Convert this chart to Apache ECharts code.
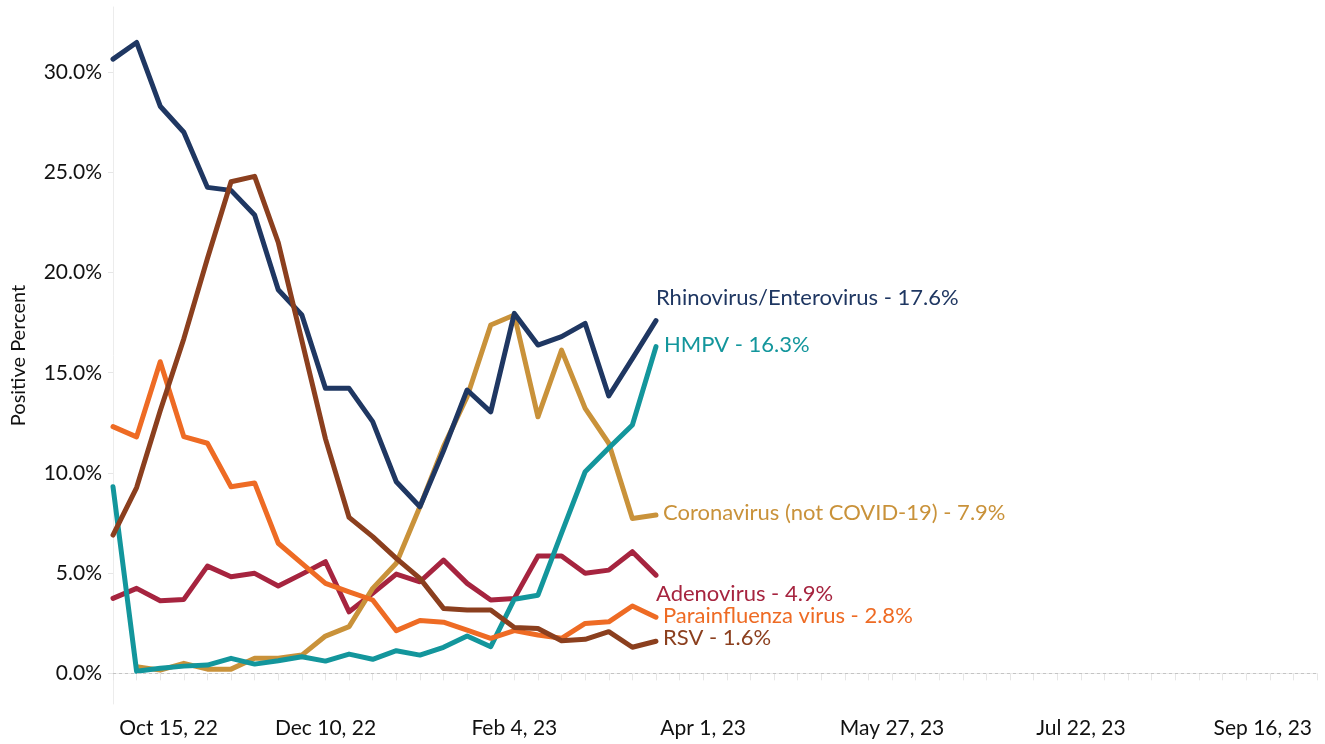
<!DOCTYPE html>
<html lang="en">
<head>
    <meta charset="UTF-8">
    <title>Positive Percent</title>
    <script src="https://cdn.jsdelivr.net/npm/echarts@6/dist/echarts.min.js"></script>
    <style>
        html, body { margin: 0; padding: 0; background: #fff; }
        #main { width: 1325px; height: 744px; }
    </style>
</head>
<body>
<div id="main"></div>
<script>
    // axis runs from the first week to the end of Sep 2023
    var axisStart = '2022-10-08';
    var axisEnd = '2023-09-30';

    // week ending dates
    var weeks = ['2022-10-08', '2022-10-15', '2022-10-22', '2022-10-29', '2022-11-05', '2022-11-12',
        '2022-11-19', '2022-11-26', '2022-12-03', '2022-12-10', '2022-12-17', '2022-12-24',
        '2022-12-31', '2023-01-07', '2023-01-14', '2023-01-21', '2023-01-28', '2023-02-04',
        '2023-02-11', '2023-02-18', '2023-02-25', '2023-03-04', '2023-03-11', '2023-03-18'];

    var tickDates = ['2022-10-15', '2022-12-10', '2023-02-04', '2023-04-01', '2023-05-27', '2023-07-22', '2023-09-16'];
    var tickText = ['Oct 15, 22', 'Dec 10, 22', 'Feb 4, 23', 'Apr 1, 23', 'May 27, 23', 'Jul 22, 23', 'Sep 16, 23'];
    var yTicks = [0, 5, 10, 15, 20, 25, 30];

    // positive percent per week
    var adeno = [3.74, 4.24, 3.62, 3.69, 5.35, 4.82, 4.99, 4.36, 4.95, 5.57, 3.07, 3.99,
        4.95, 4.57, 5.65, 4.49, 3.66, 3.74, 5.85, 5.85, 4.99, 5.15, 6.07, 4.9];
    var corona = [null, 0.33, 0.16, 0.5, 0.21, 0.21, 0.75, 0.75, 0.91, 1.86, 2.33, 4.24,
        5.49, 8.31, 11.31, 13.8, 17.38, 17.88, 12.8, 16.13, 13.22, 11.48, 7.73, 7.9];
    var hmpv = [9.31, 0.1, 0.25, 0.36, 0.41, 0.75, 0.46, 0.63, 0.83, 0.61, 0.96, 0.7,
        1.13, 0.91, 1.3, 1.86, 1.33, 3.7, 3.9, 7.0, 10.06, 11.24, 12.39, 16.3];
    var parainf = [12.31, 11.8, 15.55, 11.81, 11.48, 9.31, 9.5, 6.49, 5.49, 4.49, 4.07, 3.66,
        2.13, 2.64, 2.55, 2.16, 1.75, 2.13, 1.91, 1.75, 2.49, 2.57, 3.36, 2.8];
    var rhino = [30.65, 31.48, 28.3, 27.0, 24.25, 24.1, 22.87, 19.14, 17.88, 14.22, 14.22, 12.56,
        9.56, 8.31, 11.1, 14.14, 13.05, 17.96, 16.38, 16.8, 17.46, 13.84, 15.7, 17.6];
    var rsv = [6.9, 9.27, 13.1, 16.7, 20.7, 24.53, 24.8, 21.5, 16.6, 11.7, 7.78, 6.82,
        5.74, 4.74, 3.24, 3.16, 3.16, 2.29, 2.24, 1.63, 1.7, 2.08, 1.3, 1.6];

    var DAY = 86400000;
    function dayOf(d) {
        return (Date.parse(d) - Date.parse(axisStart)) / DAY;
    }
    var tickDays = tickDates.map(dayOf);
    var weekDays = [];
    for (var d = 0; d <= dayOf(axisEnd); d += 7) weekDays.push(d);

    function pairs(vals) {
        return weeks.map(function (w, i) {
            return [dayOf(w), vals[i]];
        });
    }

    var font = 'Lato';
    function makeSeries(name, vals, color, off) {
        return {
            name: name,
            type: 'line',
            data: pairs(vals),
            showSymbol: false,
            connectNulls: false,
            lineStyle: {width: 5, color: color, join: 'round', cap: 'round'},
            itemStyle: {color: color},
            endLabel: {
                show: true,
                distance: 0,
                offset: off,
                fontFamily: font,
                fontSize: 22,
                color: color,
                formatter: function (p) {
                    return name + ' - ' + p.value[1].toFixed(1) + '%';
                }
            },
            emphasis: {disabled: true}
        };
    }

    var series = [
        makeSeries('Adenovirus', adeno, '#a6243f', [0, 19]),
        makeSeries('Coronavirus (not COVID-19)', corona, '#c9923a', [7, -2]),
        makeSeries('HMPV', hmpv, '#13969c', [8, -1.5]),
        makeSeries('Parainfluenza virus', parainf, '#ee6b24', [7, -1.5]),
        makeSeries('Rhinovirus/Enterovirus', rhino, '#1f3762', [0, -23]),
        makeSeries('RSV', rsv, '#8b3f1e', [7, -3])
    ];
    // dotted zero line
    series[0].markLine = {
        silent: true,
        symbol: 'none',
        label: {show: false},
        lineStyle: {type: [3, 3], color: '#c4c4c4', width: 1},
        data: [{yAxis: 0}]
    };

    var myChart = echarts.init(document.getElementById('main'));
    myChart.setOption({
        animation: false,
        backgroundColor: '#fff',
        grid: {left: 113, right: 8, top: 7, bottom: 40, containLabel: false},
        xAxis: {
            type: 'value',
            min: 0,
            max: dayOf(axisEnd),
            splitLine: {show: false},
            axisLine: {lineStyle: {color: '#ececec', width: 1}},
            axisTick: {customValues: weekDays, length: 7, lineStyle: {color: '#e6e6e6'}},
            axisLabel: {
                customValues: tickDays,
                margin: 14,
                fontFamily: font,
                fontSize: 21,
                color: '#111',
                formatter: function (v) {
                    var i = tickDays.indexOf(v);
                    if (i === 0) return '{a|' + tickText[i] + '}';
                    if (i === tickText.length - 1) return '{z|' + tickText[i] + '}';
                    return tickText[i];
                },
                rich: {
                    a: {fontFamily: font, fontSize: 21, color: '#111', padding: [0, 0, 0, 64]},
                    z: {fontFamily: font, fontSize: 21, color: '#111', padding: [0, 14, 0, 0]}
                }
            }
        },
        yAxis: {
            type: 'value',
            min: -1.53,
            max: 33.25,
            name: 'Positive Percent',
            nameLocation: 'middle',
            nameRotate: 90,
            nameGap: 84,
            nameTextStyle: {fontFamily: font, fontSize: 20, color: '#111'},
            splitLine: {show: false},
            axisLine: {show: true, lineStyle: {color: '#ececec', width: 1}},
            axisTick: {show: true, customValues: yTicks, length: 5, lineStyle: {color: '#e6e6e6'}},
            axisLabel: {
                customValues: yTicks,
                margin: 11,
                fontFamily: font,
                fontSize: 21,
                color: '#111',
                formatter: function (v) {
                    return v.toFixed(1) + '%';
                }
            }
        },
        series: series
    });
</script>
</body>
</html>
